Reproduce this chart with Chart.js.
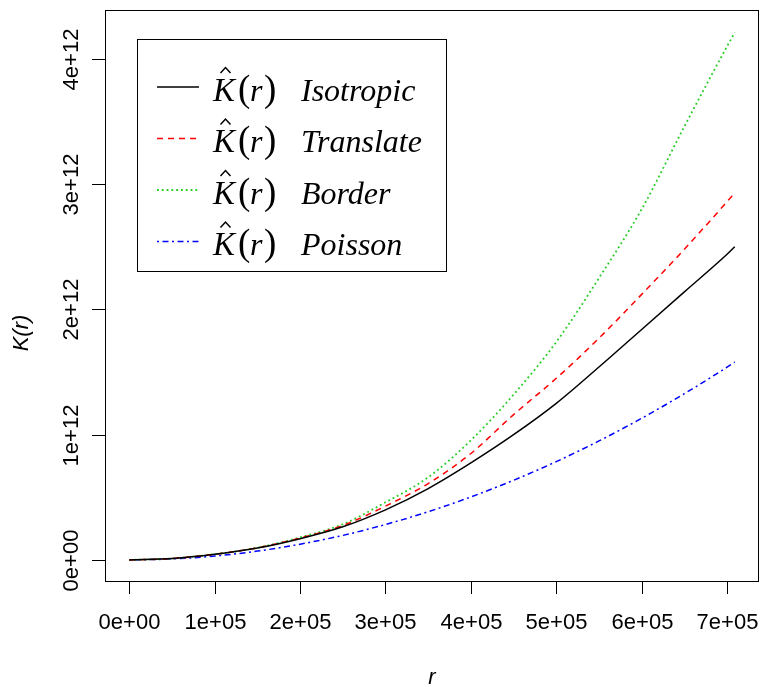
<!DOCTYPE html>
<html>
<head>
<meta charset="utf-8">
<script src="https://cdn.jsdelivr.net/npm/chart.js@4.4.1/dist/chart.umd.min.js"></script>
<style>
  html, body { margin: 0; padding: 0; background: #fff; }
</style>
</head>
<body>
<canvas id="kChart" width="761" height="687"></canvas>
<script>
const rValues = [0, 0.5e5, 1e5, 1.5e5, 2e5, 2.5e5, 3e5, 3.5e5, 4e5, 4.5e5, 5e5, 5.5e5, 6e5, 6.5e5, 7e5, 7.09e5];

// K(r) estimates
const isotropic = [0, 0.011e12, 0.045e12, 0.095e12, 0.17e12, 0.265e12, 0.40e12, 0.57e12, 0.775e12, 1.0e12, 1.25e12, 1.54e12, 1.84e12, 2.14e12, 2.44e12, 2.50e12];
const translate = [0, 0.011e12, 0.045e12, 0.097e12, 0.175e12, 0.275e12, 0.43e12, 0.61e12, 0.85e12, 1.16e12, 1.45e12, 1.77e12, 2.12e12, 2.48e12, 2.86e12, 2.93e12];
const border    = [0, 0.011e12, 0.046e12, 0.098e12, 0.18e12, 0.285e12, 0.46e12, 0.66e12, 0.955e12, 1.32e12, 1.74e12, 2.25e12, 2.80e12, 3.46e12, 4.10e12, 4.21e12];
const poisson   = [0, 0.0079e12, 0.0314e12, 0.0707e12, 0.126e12, 0.196e12, 0.283e12, 0.385e12, 0.503e12, 0.636e12, 0.785e12, 0.950e12, 1.131e12, 1.327e12, 1.539e12, 1.579e12];

const seriesNames = ['Isotropic', 'Translate', 'Border', 'Poisson'];

// axis ticks
const xTicks = [0, 1e5, 2e5, 3e5, 4e5, 5e5, 6e5, 7e5];
const xTickLabels = ['0e+00', '1e+05', '2e+05', '3e+05', '4e+05', '5e+05', '6e+05', '7e+05'];
const yTicks = [0, 1e12, 2e12, 3e12, 4e12];
const yTickLabels = ['0e+00', '1e+12', '2e+12', '3e+12', '4e+12'];

const toPoints = vals => rValues.map((r, i) => ({ x: r, y: vals[i] }));

// R-style box, ticks and axis labels
const rAxes = {
  id: 'rAxes',
  afterDraw(chart) {
    const ctx = chart.ctx;
    const a = chart.chartArea;
    const xs = chart.scales.x, ys = chart.scales.y;
    ctx.save();
    ctx.strokeStyle = '#000';
    ctx.lineWidth = 1;
    ctx.strokeRect(Math.round(a.left) + 0.5, Math.round(a.top) + 0.5, Math.round(a.right - a.left) - 1, Math.round(a.bottom - a.top));

    ctx.fillStyle = '#000';
    ctx.font = '22px "Liberation Sans", Arial, sans-serif';
    ctx.textAlign = 'center';
    ctx.textBaseline = 'middle';
    xTicks.forEach((v, i) => {
      const px = Math.round(xs.getPixelForValue(v)) + 0.5;
      ctx.beginPath();
      ctx.moveTo(px, a.bottom);
      ctx.lineTo(px, a.bottom + 13);
      ctx.stroke();
      ctx.fillText(xTickLabels[i], px, 623);
    });
    yTicks.forEach((v, i) => {
      const py = Math.round(ys.getPixelForValue(v)) + 0.5;
      ctx.beginPath();
      ctx.moveTo(a.left, py);
      ctx.lineTo(a.left - 13, py);
      ctx.stroke();
      ctx.save();
      ctx.translate(72, py);
      ctx.rotate(-Math.PI / 2);
      ctx.fillText(yTickLabels[i], 0, 0);
      ctx.restore();
    });

    ctx.font = 'italic 22px "Liberation Sans", Arial, sans-serif';
    ctx.fillText('r', 432, 678);
    ctx.save();
    ctx.translate(22, 333);
    ctx.rotate(-Math.PI / 2);
    ctx.fillText('K(r)', 0, 0);
    ctx.restore();
    ctx.restore();
  }
};

// legend box with hat-K labels
const rLegend = {
  id: 'rLegend',
  afterDraw(chart) {
    const ctx = chart.ctx;
    const rows = [87, 138.5, 190, 241.5];
    ctx.save();
    ctx.fillStyle = '#fff';
    ctx.fillRect(137, 39, 310, 233);
    ctx.strokeStyle = '#000';
    ctx.lineWidth = 1;
    ctx.strokeRect(137.5, 39.5, 309, 232);
    chart.data.datasets.forEach((ds, i) => {
      const y = rows[i];
      ctx.strokeStyle = ds.borderColor;
      ctx.lineWidth = ds.borderWidth;
      ctx.setLineDash(ds.borderDash || []);
      ctx.beginPath();
      ctx.moveTo(157, y);
      ctx.lineTo(199, y);
      ctx.stroke();
      ctx.setLineDash([]);

      const base = y + 13.5;
      ctx.fillStyle = '#000';
      ctx.textAlign = 'left';
      ctx.textBaseline = 'alphabetic';
      ctx.font = 'italic 33px "Liberation Serif", "DejaVu Serif", serif';
      ctx.fillText('K', 213, base);
      // circumflex over K
      ctx.strokeStyle = '#000';
      ctx.lineWidth = 1.5;
      ctx.beginPath();
      ctx.moveTo(220.5, y - 14);
      ctx.lineTo(225.5, y - 19.5);
      ctx.lineTo(230.5, y - 14);
      ctx.stroke();
      ctx.font = '37px "Liberation Serif", "DejaVu Serif", serif';
      ctx.fillText('(', 238, base);
      ctx.fillText(')', 264, base);
      ctx.font = 'italic 32px "Liberation Serif", "DejaVu Serif", serif';
      ctx.fillText('r', 250, base);
      ctx.fillText(ds.label, 301, base);
    });
    ctx.restore();
  }
};

new Chart(document.getElementById('kChart'), {
  type: 'line',
  data: {
    datasets: [
      { label: seriesNames[0], data: toPoints(isotropic), borderColor: '#000000', borderWidth: 1.5, borderDash: [] },
      { label: seriesNames[1], data: toPoints(translate), borderColor: '#ff0000', borderWidth: 1.5, borderDash: [6, 5] },
      { label: seriesNames[2], data: toPoints(border), borderColor: '#22cc22', borderWidth: 1.8, borderDash: [1.8, 3] },
      { label: seriesNames[3], data: toPoints(poisson), borderColor: '#0000ff', borderWidth: 1.5, borderDash: [2, 3.5, 6, 3.5] }
    ]
  },
  options: {
    responsive: false,
    animation: false,
    devicePixelRatio: 1,
    layout: { padding: { left: 105, top: 10, right: 2, bottom: 106 } },
    elements: {
      point: { radius: 0 },
      line: { cubicInterpolationMode: 'monotone', fill: false }
    },
    scales: {
      x: { type: 'linear', display: false, min: -0.2846e5, max: 7.374e5 },
      y: { type: 'linear', display: false, min: -0.168e12, max: 4.39e12 }
    },
    plugins: {
      legend: { display: false },
      tooltip: { enabled: false }
    }
  },
  plugins: [rAxes, rLegend]
});
</script>
</body>
</html>
